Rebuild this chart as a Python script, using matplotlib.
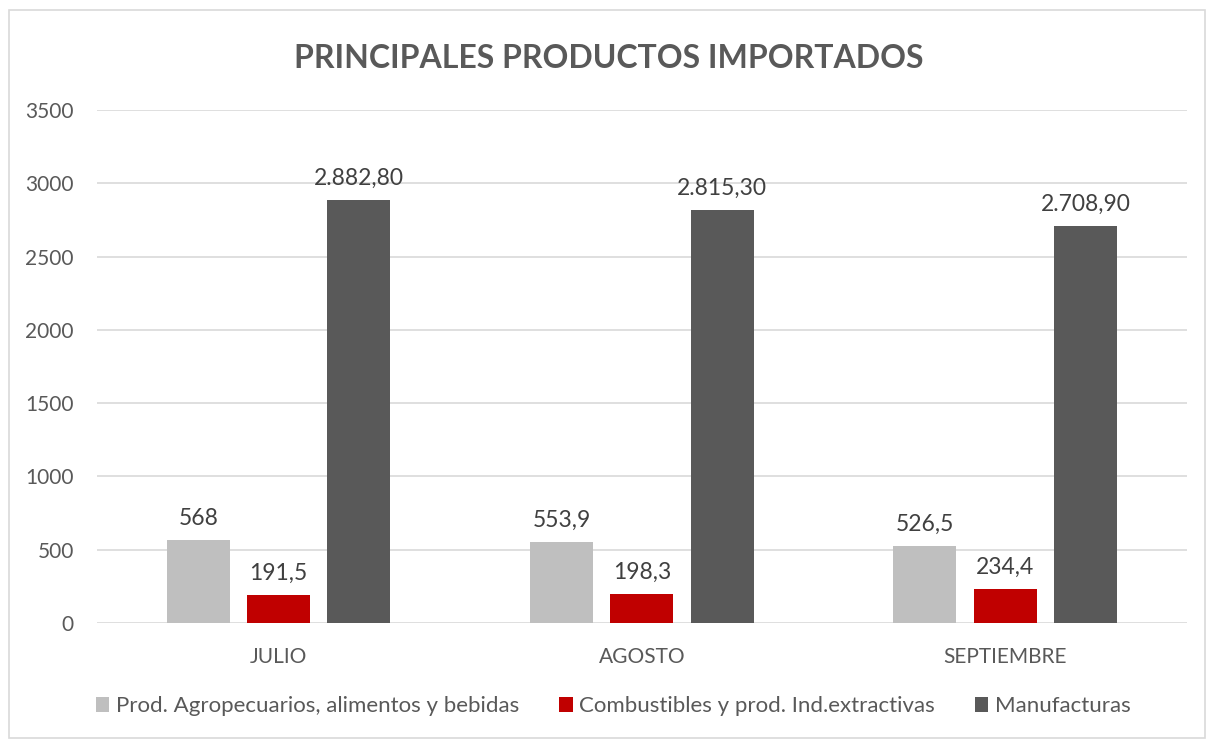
import numpy as np
import matplotlib
matplotlib.use("Agg")
import matplotlib.pyplot as plt
from matplotlib.patches import Rectangle

# datos
meses = ["JULIO", "AGOSTO", "SEPTIEMBRE"]
series = ["Prod. Agropecuarios, alimentos y bebidas",
          "Combustibles y prod. Ind.extractivas",
          "Manufacturas"]
agro = [568, 553.9, 526.5]
combustibles = [191.5, 198.3, 234.4]
manufacturas = [2882.8, 2815.3, 2708.9]
etiquetas = [["568", "553,9", "526,5"],
             ["191,5", "198,3", "234,4"],
             ["2.882,80", "2.815,30", "2.708,90"]]

colores = ["#BFBFBF", "#C00000", "#595959"]
gris = "#595959"

plt.rcParams['font.family'] = ['Lato', 'DejaVu Sans']

fig = plt.figure(figsize=(12.11, 7.41), dpi=100)
ax = fig.add_axes([0.080, 0.1592, 0.900, 0.6924])

# marco exterior
fig.patches.append(Rectangle((9/1211, 3/741), 1196/1211, 728/741,
                             transform=fig.transFigure, fill=False,
                             edgecolor="#D9D9D9", linewidth=1.2))

x = np.arange(len(meses))
ancho = 0.174
paso = 0.221
valores = [agro, combustibles, manufacturas]
for k, (vals, col, nom) in enumerate(zip(valores, colores, series)):
    pos = x + (k - 1) * paso
    ax.bar(pos, vals, width=ancho, color=col, label=nom, zorder=3)
    for p, v, t in zip(pos, vals, etiquetas[k]):
        ax.annotate(t, (p, v), xytext=(0, 8), textcoords="offset points",
                    ha="center", va="bottom", fontsize=16.5, color="#404040")

ax.set_xlim(-0.5, 2.5)
ax.set_ylim(0, 3500)
ax.set_yticks(np.arange(0, 3501, 500))
ax.set_xticks(x)
ax.set_xticklabels(meses)
ax.grid(axis="y", color="#D9D9D9", linewidth=1.2, zorder=0)
for s in ax.spines.values():
    s.set_visible(False)
ax.tick_params(axis="both", length=0, labelsize=15, labelcolor=gris)
ax.tick_params(axis="y", pad=16.5)
ax.tick_params(axis="x", pad=17)

fig.text(0.503, 0.921, "PRINCIPALES PRODUCTOS IMPORTADOS", ha="center",
         va="center", fontsize=23, fontweight="bold", color=gris)

ax.legend(loc="center", bbox_to_anchor=(0.474, -0.162), ncol=3,
          frameon=False, fontsize=16, labelcolor=gris, handlelength=0.6,
          handleheight=0.7, handletextpad=0.3, columnspacing=1.8)

fig.savefig("out.png", dpi=100)
